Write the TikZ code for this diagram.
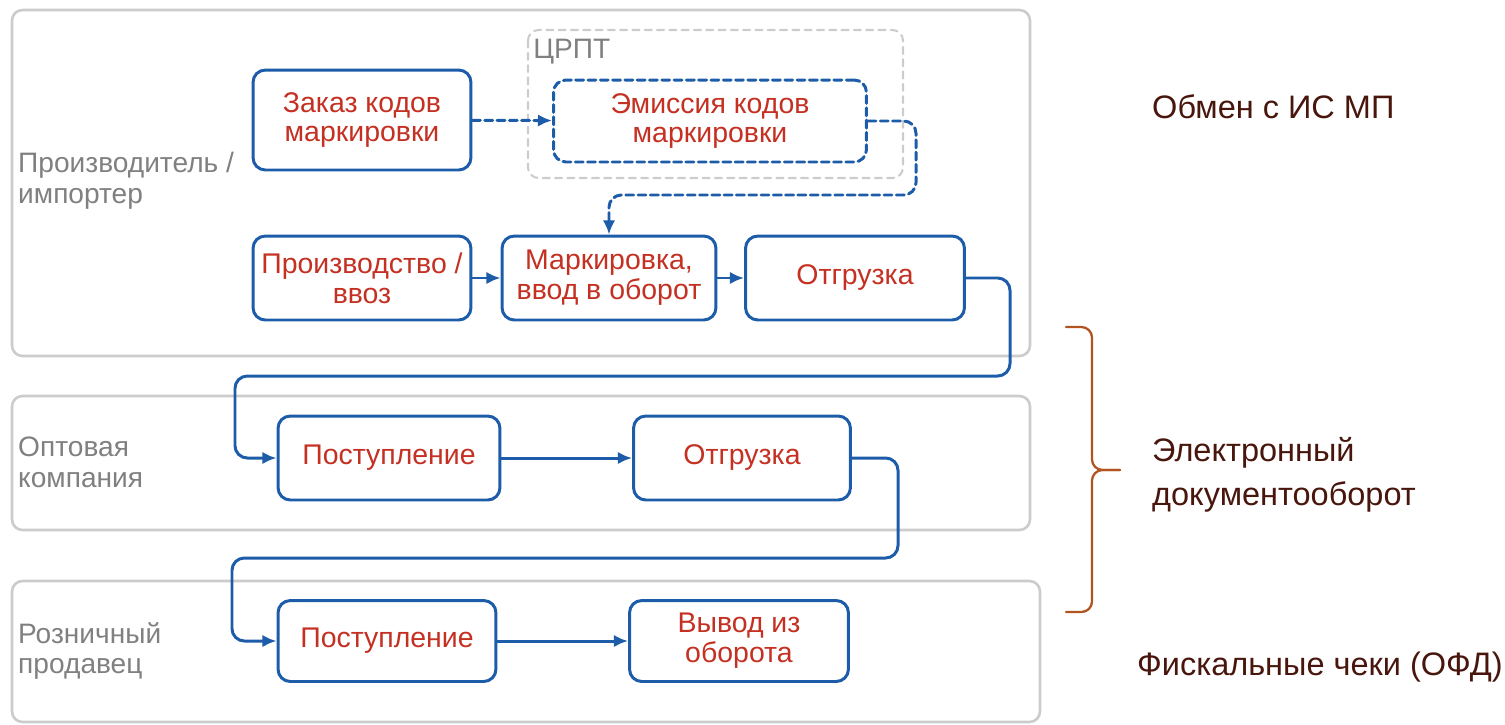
\documentclass[tikz,border=0pt]{standalone}
\usepackage{fontspec}
\setmainfont{Liberation Sans}
\usetikzlibrary{arrows.meta}

\definecolor{mkblue}{RGB}{28,92,168}
\definecolor{mkred}{RGB}{196,48,34}
\definecolor{lanegray}{RGB}{204,204,204}
\definecolor{labelgray}{RGB}{128,128,128}
\definecolor{notebrown}{RGB}{72,22,12}
\definecolor{bracebrown}{RGB}{178,84,32}

\begin{document}
\begin{tikzpicture}[
						x=0.02cm, y=-0.02cm,
						line cap=round,
						line join=round,
						stage/.style={draw=mkblue, line width=1.7pt, rounded corners=7pt, align=center, text=mkred, font=\fontsize{16.2}{17}\selectfont, inner sep=2pt},
						stagedash/.style={stage, dash pattern=on 4.5pt off 2.5pt},
						lane/.style={draw=lanegray, line width=1.5pt, rounded corners=6pt},
						lanelabel/.style={anchor=west, align=left, text=labelgray, font=\fontsize{16}{17.5}\selectfont},
						flow/.style={draw=mkblue, line width=1.7pt, rounded corners=7pt, -{Latex[length=8pt, width=7pt]}},
						flowdash/.style={flow, dash pattern=on 4.5pt off 2.5pt},
						note/.style={anchor=west, align=left, text=notebrown, font=\fontsize{18.5}{25}\selectfont}
						]
						\useasboundingbox (0,0) rectangle (1505,724);
						
						\draw[lane] (12,10) rectangle (1030,356);
						\draw[lane] (12,396) rectangle (1030,530);
						\draw[lane] (12,581) rectangle (1040,722);
						\draw[draw=lanegray, line width=1.2pt, rounded corners=6pt, dash pattern=on 4pt off 3pt] (528,30) rectangle (903,178);
						
						\node[lanelabel] (producer) at (12,181) {Производитель /\\импортер};
						\node[lanelabel] (wholesale) at (12,462) {Оптовая\\компания};
						\node[lanelabel] (retail) at (12,651) {Розничный\\продавец};
						\node[anchor=north west, text=labelgray, font=\fontsize{16}{16}\selectfont, inner sep=0pt] (crpt) at (533,39) {ЦРПТ};
						
						\node[stage, minimum width=4.36cm, minimum height=2.0cm] (order) at (362,120) {Заказ кодов\\маркировки};
						\node[stagedash, minimum width=6.26cm, minimum height=1.64cm] (emission) at (710,121) {Эмиссия кодов\\маркировки};
						\node[stage, minimum width=4.36cm, minimum height=1.68cm] (produce) at (362,278) {Производство /\\ввоз};
						\node[stage, minimum width=4.28cm, minimum height=1.68cm] (marking) at (609,278) {Маркировка,\\ввод в оборот};
						\node[stage, minimum width=4.38cm, minimum height=1.68cm] (ship1) at (855,278) {Отгрузка};
						\node[stage, minimum width=4.44cm, minimum height=1.68cm] (receive2) at (389,458) {Поступление};
						\node[stage, minimum width=4.34cm, minimum height=1.68cm] (ship2) at (742,458) {Отгрузка};
						\node[stage, minimum width=4.36cm, minimum height=1.62cm] (receive3) at (387,641) {Поступление};
						\node[stage, minimum width=4.38cm, minimum height=1.62cm] (withdraw) at (739,641) {Вывод из\\оборота};
						
						\coordinate (e1) at (916,195);
						\coordinate (e2) at (609,195);
						\coordinate (t1) at (1010,376);
						\coordinate (t2) at (235,376);
						\coordinate (w1) at (898,558);
						\coordinate (w2) at (232,558);
						
						\draw[flowdash] (order) -- (emission);
						\draw[flowdash] (emission.east) -| (e1) -- (e2) -- (marking.north);
						\draw[flow] (produce) -- (marking);
						\draw[flow] (marking) -- (ship1);
						\draw[flow] (ship1.east) -| (t1) -- (t2) |- (receive2.west);
						\draw[flow] (receive2) -- (ship2);
						\draw[flow] (ship2.east) -| (w1) -- (w2) |- (receive3.west);
						\draw[flow] (receive3) -- (withdraw);
						
						\draw[bracebrown, line width=1.3pt, rounded corners=6pt] (1066,327) -- (1092,327) -- (1092,470) -- (1120,470);
						\draw[bracebrown, line width=1.3pt, rounded corners=6pt] (1066,612) -- (1092,612) -- (1092,470) -- (1120,470);
						
						\node[note] (exchange) at (1146,107) {Обмен с ИС МП};
						\node[note] (edo) at (1146,475) {Электронный\\документооборот};
						\node[note] (fiscal) at (1131,667) {Фискальные чеки (ОФД)};
						
					\end{tikzpicture}
\end{document}
